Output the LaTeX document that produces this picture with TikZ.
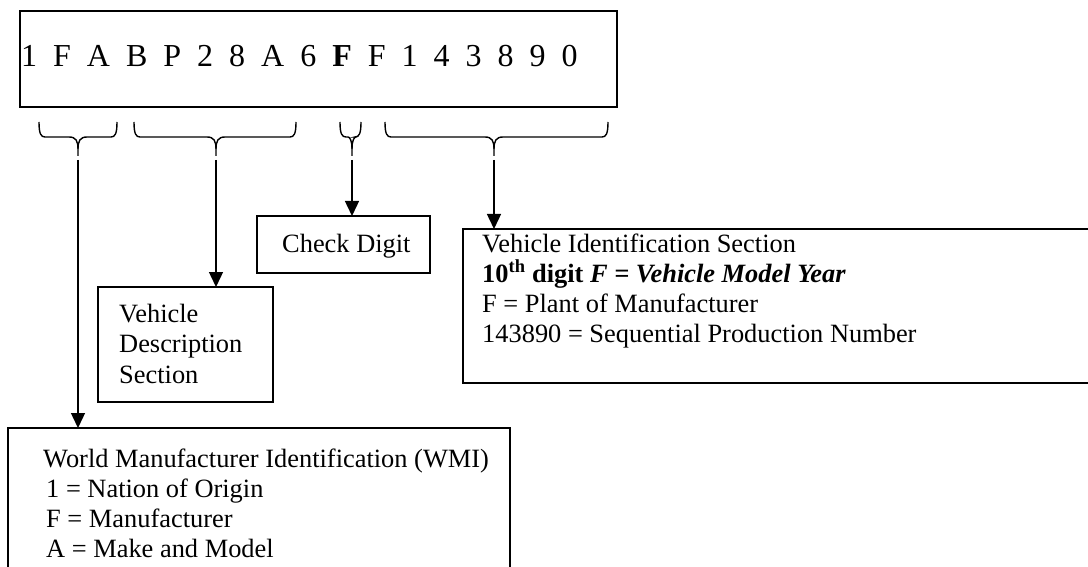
\documentclass[tikz,border=0pt]{standalone}
\usepackage{fontspec}
\setmainfont{Liberation Serif}
\usetikzlibrary{arrows.meta, positioning}
\newcommand\vinsp{\hskip.5em\relax}
\newcommand\vinbrace[5]{ % brace under the VIN: left end, cusp, right end, cusp width, name of arrow start
    \draw[brc] (#1,122) .. controls (#1,134) and (#1+2,137) .. (#1+6,137) -- (#2-#4,137) .. controls (#2-2,137) and (#2,141) .. (#2,149) -- (#2,156);
    \draw[brc] (#2,149) .. controls (#2,141) and (#2+2,137) .. (#2+#4,137) -- (#3-6,137) .. controls (#3-2,137) and (#3,134) .. (#3,122);
    \coordinate (#5) at (#2,160);
}

\begin{document}
\begin{tikzpicture}[x=1pt, y=-1pt, >={Triangle[width=14pt,length=15pt]},
    box/.style={draw, line width=1.5pt, inner sep=0pt, outer sep=0pt, anchor=north west},
    brc/.style={line width=1.4pt},
    txt/.style={anchor=base west, inner sep=0pt, font=\fontsize{26.4}{30}\selectfont},
    vin/.style={anchor=base west, inner sep=0pt, font=\fontsize{32}{36}\selectfont}]
    \clip (0,0) rectangle (1088,567);
    % boxes
    \node[box, minimum width=597pt, minimum height=96pt] (vinbox) at (20,11) {};
    \node[box, minimum width=173pt, minimum height=57pt] (chkbox) at (257,216) {};
    \node[box, minimum width=175pt, minimum height=115pt] (vdsbox) at (98,287) {};
    \node[box, minimum width=660pt, minimum height=154pt] (visbox) at (463,229) {};
    \node[box, minimum width=502pt, minimum height=180pt] (wmibox) at (8,428) {};
    % the VIN
    \node[vin] (vintext) at (21,67) {1\vinsp F\vinsp A\vinsp B\vinsp P\vinsp 2\vinsp 8\vinsp A\vinsp 6\vinsp \textbf{F}\vinsp F\vinsp 1\vinsp 4\vinsp 3\vinsp 8\vinsp 9\vinsp 0};
    % braces and arrows
    \vinbrace{39}{78}{117}{9}{wmiarr}
    \vinbrace{134}{216}{296}{9}{vdsarr}
    \vinbrace{340}{352}{361}{4}{chkarr}
    \vinbrace{385}{494}{608}{9}{visarr}
    \draw[->, line width=1.4pt] (wmiarr) -- (wmiarr |- wmibox.north);
    \draw[->, line width=1.4pt] (vdsarr) -- (vdsarr |- vdsbox.north);
    \draw[->, line width=1.4pt] (chkarr) -- (chkarr |- chkbox.north);
    \draw[->, line width=1.4pt] (visarr) -- (visarr |- visbox.north);
    % texts in the boxes
    \node[txt] (chk) at (282,252) {Check Digit};
    \foreach \t [count=\i] in {Vehicle, Description, Section}
        \node[txt] (vds\i) at (119,{322+30.5*(\i-1)}) {\t};
    \foreach \t [count=\i] in {Vehicle Identification Section, {\textbf{10\textsuperscript{th} digit \textit{F = Vehicle Model Year}}}, F = Plant of Manufacturer, 143890 = Sequential Production Number}
        \node[txt] (vis\i) at (482,{252+30*(\i-1)}) {\t};
    \node[txt] (wmi1) at (43,467) {World Manufacturer Identification (WMI)};
    \foreach \t [count=\i from 2] in {1 = Nation of Origin, F = Manufacturer, A = Make and Model}
        \node[txt] (wmi\i) at (46,{467+30*(\i-1)}) {\t};
\end{tikzpicture}
\end{document}
